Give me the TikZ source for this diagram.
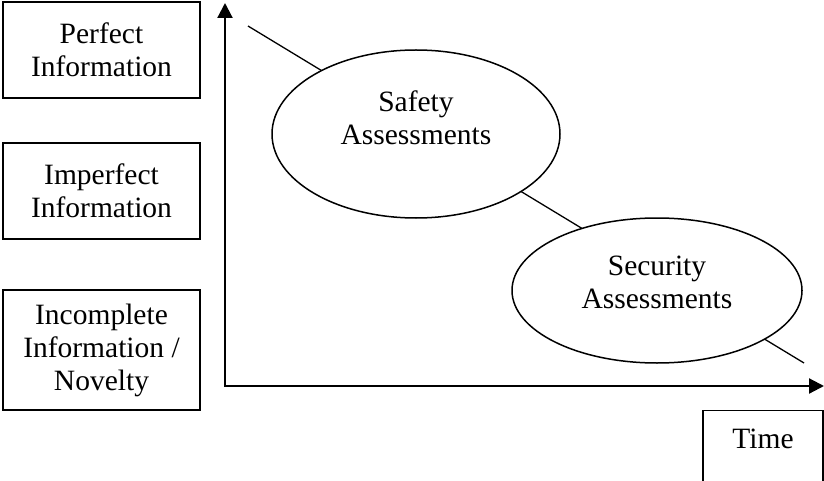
\documentclass[tikz,border=0pt]{standalone}
\usepackage{fontspec}
\setmainfont{Liberation Serif}
\usetikzlibrary{shapes.geometric,arrows.meta}

\begin{document}
\begin{tikzpicture}[x=1pt,y=-1pt]
\tikzset{infobox/.style = {shape=rectangle,draw,line width=1.3pt,minimum width=197pt,align=center,font=\fontsize{29.5}{33}\selectfont}}
\tikzset{assess/.style = {shape=ellipse,draw,fill=white,line width=1.5pt,inner sep=0pt,align=center,font=\fontsize{29.5}{33}\selectfont}}
\tikzset{axis/.style = {line width=2.2pt,> = {Triangle[length=15pt,width=15pt]}}}
\tikzset{trend/.style = {-,line width=1.3pt}}
\useasboundingbox (0,0) rectangle (824,481);
% information levels
\node[infobox,minimum height=96pt] (perfect) at (101.5,50) {Perfect\\Information};
\node[infobox,minimum height=96pt] (imperfect) at (101.5,191) {Imperfect\\Information};
\node[infobox,minimum height=120pt] (incomplete) at (101.5,350) {Incomplete\\Information /\\Novelty};
\node[infobox,minimum width=120pt,anchor=north,text height=20pt,text depth=60pt,inner ysep=18pt] (time) at (763,410) {Time};
% axes
\coordinate (origin) at (225,386);
\coordinate (ytop) at (225,3);
\coordinate (xend) at (824,386);
\draw[axis,<->] (ytop) -- (origin) -- (xend);
% trend
\coordinate (trendstart) at (248,26);
\coordinate (trendend) at (804,363);
\draw[trend] (trendstart) -- (trendend);
% assessments
\node[assess,minimum width=288pt,minimum height=168pt] (safety) at (416,134) {Safety\\Assessments\\\mbox{}};
\node[assess,minimum width=290pt,minimum height=145pt] (security) at (657,290.5) {Security\\Assessments\\[-16pt]\mbox{}};
\end{tikzpicture}
\end{document}
